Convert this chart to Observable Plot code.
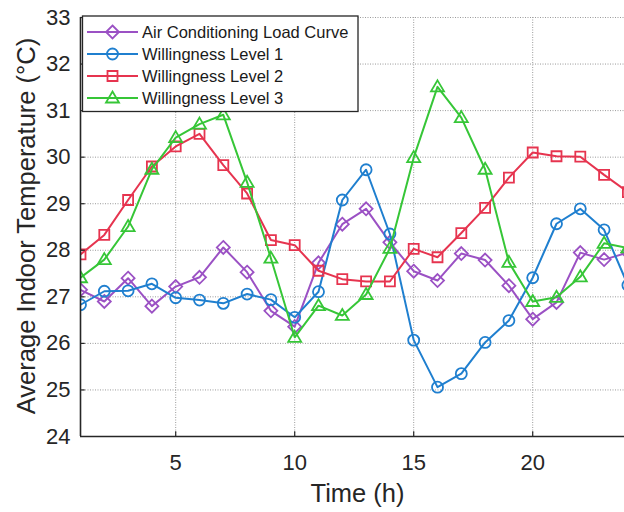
<!DOCTYPE html>
<html>
<head>
<meta charset="utf-8">
<script src="https://cdn.jsdelivr.net/npm/d3@7"></script>
<script src="https://cdn.jsdelivr.net/npm/@observablehq/plot@0.6"></script>
<style>
  html, body { margin: 0; padding: 0; background: #fff; overflow: hidden; }
  #chart svg { display: block; }
</style>
</head>
<body>
<div id="chart"></div>
<script>
const hours = d3.range(1, 25);
const seriesNames = ["Air Conditioning Load Curve", "Willingness Level 1", "Willingness Level 2", "Willingness Level 3"];
const acLoad = [27.15, 26.90, 27.40, 26.80, 27.22, 27.42, 28.06, 27.53, 26.70, 26.36, 27.73, 28.56, 28.89, 28.17, 27.55, 27.35, 27.93, 27.79, 27.24, 26.52, 26.88, 27.95, 27.80, 27.95];
const level1 = [26.83, 27.12, 27.13, 27.28, 26.98, 26.93, 26.86, 27.06, 26.94, 26.56, 27.11, 29.08, 29.73, 28.35, 26.07, 25.06, 25.35, 26.02, 26.49, 27.41, 28.57, 28.89, 28.44, 27.25];
const level2 = [27.91, 28.33, 29.08, 29.80, 30.23, 30.50, 29.83, 29.22, 28.22, 28.11, 27.56, 27.38, 27.33, 27.33, 28.03, 27.85, 28.37, 28.91, 29.56, 30.10, 30.02, 30.01, 29.62, 29.25];
const level3 = [27.41, 27.80, 28.51, 29.74, 30.42, 30.71, 30.91, 29.46, 27.83, 26.13, 26.81, 26.60, 27.05, 28.04, 29.99, 31.51, 30.85, 29.74, 27.74, 26.90, 26.99, 27.43, 28.15, 28.05];
const xTicks = [5, 10, 15, 20];
const yTicks = [24, 25, 26, 27, 28, 29, 30, 31, 32, 33];

const colors = ["#9b51c4", "#1f7fcf", "#e6344f", "#36c637"];
const font = "'Liberation Sans', Arial, Helvetica, sans-serif";

const diamondSym = {draw(ctx) { const r = 6.5; ctx.moveTo(0, -r); ctx.lineTo(r, 0); ctx.lineTo(0, r); ctx.lineTo(-r, 0); ctx.closePath(); }};
const circleSym = {draw(ctx) { const r = 5.5; ctx.moveTo(r, 0); ctx.arc(0, 0, r, 0, 2 * Math.PI); ctx.closePath(); }};
const squareSym = {draw(ctx) { const r = 5; ctx.moveTo(-r, -r); ctx.lineTo(r, -r); ctx.lineTo(r, r); ctx.lineTo(-r, r); ctx.closePath(); }};
const triangleSym = {draw(ctx) { ctx.moveTo(0, -6.5); ctx.lineTo(6.5, 4.5); ctx.lineTo(-6.5, 4.5); ctx.closePath(); }};
const symbols = [diamondSym, circleSym, squareSym, triangleSym];

const allSeries = [acLoad, level1, level2, level3];
const table = allSeries.flatMap((vals, i) => vals.map((v, j) => ({series: i, hour: hours[j], temp: v})));

const marks = [
  Plot.gridY({ticks: yTicks.slice(1), stroke: "#9a9a9a", strokeOpacity: 1, strokeWidth: 1, strokeDasharray: "1,1.5"}),
  Plot.gridX({ticks: xTicks, stroke: "#9a9a9a", strokeOpacity: 1, strokeWidth: 1, strokeDasharray: "1,1.5"}),
];
allSeries.forEach((vals, i) => {
  const d = table.filter(r => r.series === i);
  marks.push(Plot.line(d, {x: "hour", y: "temp", stroke: colors[i], strokeWidth: 2, clip: true}));
  marks.push(Plot.dot(d, {x: "hour", y: "temp", stroke: colors[i], strokeWidth: 1.8, fill: "none", symbol: symbols[i], clip: true}));
});
marks.push(
  Plot.ruleY([24], {stroke: "#262626", strokeWidth: 1.6}),
  Plot.ruleX([1], {stroke: "#262626", strokeWidth: 1.6}),
  Plot.axisX({ticks: xTicks, tickSize: 0, tickPadding: 18, fontSize: 22, fill: "#262626", label: null}),
  Plot.ruleX(xTicks, {x: d => d, y1: 24, y2: 24.1, stroke: "#262626", strokeWidth: 1.2}),
  Plot.axisY({ticks: yTicks, tickSize: 0, tickPadding: 10, fontSize: 22, fill: "#262626", label: null}),
  Plot.ruleY(yTicks.slice(1), {y: d => d, x1: 1, x2: 1.2, stroke: "#262626", strokeWidth: 1.2}),
  Plot.text(["Time (h)"], {frameAnchor: "bottom", lineAnchor: "middle", dy: 57, dx: 5, fontSize: 25.5, fill: "#262626"}),
  Plot.text(["Average Indoor Temperature (°C)"], {frameAnchor: "left", rotate: -90, lineAnchor: "middle", textAnchor: "middle", dx: -54, dy: -1, fontSize: 25.5, fill: "#262626"})
);

const chart = Plot.plot({
  width: 624,
  height: 512,
  marginLeft: 80,
  marginRight: 0,
  marginTop: 17,
  marginBottom: 76,
  style: {fontFamily: font, background: "#fff", color: "#262626"},
  x: {domain: [1, 23.857], axis: null},
  y: {domain: [24, 33], axis: null},
  marks
});
document.getElementById("chart").appendChild(chart);

// Legend
const svg = d3.select(chart);
const lg = svg.append("g").attr("text-anchor", "start");
lg.append("rect").attr("x", 82.5).attr("y", 16).attr("width", 275.5).attr("height", 95.5)
  .attr("fill", "#fff").attr("stroke", "#262626").attr("stroke-width", 1.3);
seriesNames.forEach((name, i) => {
  const cy = 32 + i * 22;
  lg.append("line").attr("x1", 87).attr("x2", 138).attr("y1", cy).attr("y2", cy)
    .attr("stroke", colors[i]).attr("stroke-width", 2);
  lg.append("path").attr("d", d3.symbol().type(symbols[i])()).attr("transform", `translate(112.5,${cy})`)
    .attr("fill", "none").attr("stroke", colors[i]).attr("stroke-width", 1.8);
  lg.append("text").attr("x", 142).attr("y", cy).attr("dy", "0.35em").attr("text-anchor", "start")
    .attr("font-size", 16.5).attr("font-family", font).attr("fill", "#1a1a1a").text(name);
});
</script>
</body>
</html>
